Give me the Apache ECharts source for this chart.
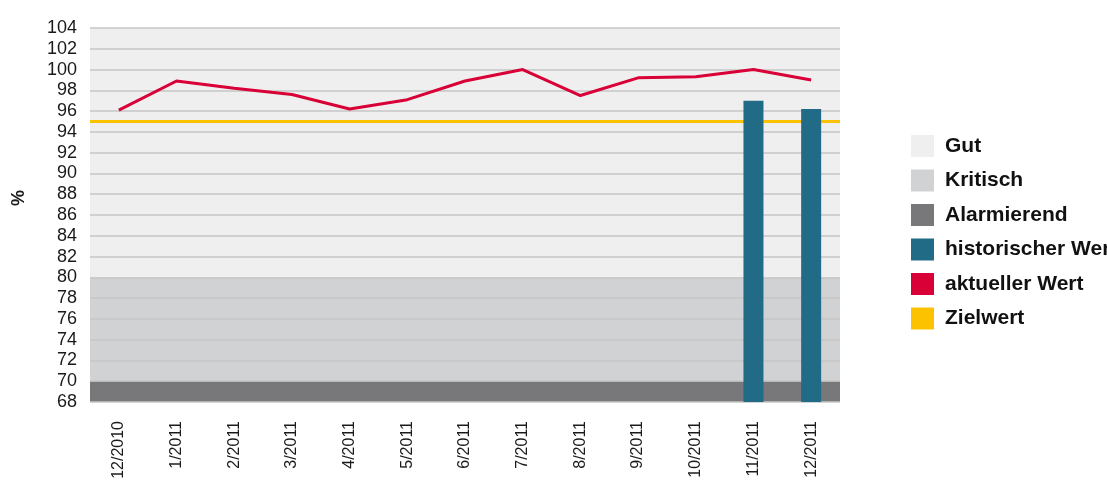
<!DOCTYPE html>
<html>
<head>
<meta charset="utf-8">
<script src="https://cdn.jsdelivr.net/npm/echarts@6/dist/echarts.min.js"></script>
<style>
html,body{margin:0;padding:0;background:#fff;}
#c{width:1107px;height:484px;}
</style>
</head>
<body>
<div id="c"></div>
<script>
var categories = ['12/2010','1/2011','2/2011','3/2011','4/2011','5/2011','6/2011','7/2011','8/2011','9/2011','10/2011','11/2011','12/2011'];
var aktuellerWert = [96.1, 98.9, 98.2, 97.6, 96.2, 97.1, 98.9, 100.0, 97.5, 99.2, 99.3, 100.0, 99.0];
var historischerWert = [null, null, null, null, null, null, null, null, null, null, null, 97.0, 96.2];
var zielwert = 95;
var bandGut = [80, 104];
var bandKritisch = [70, 80];
var bandAlarmierend = [68, 70];
var yMin = 68, yMax = 104, yStep = 2;

var chart = echarts.init(document.getElementById('c'));
var font = 'Liberation Sans, Arial, sans-serif';

function band(name, color, range) {
  return {
    name: name,
    type: 'line',
    data: [],
    itemStyle: {color: color},
    lineStyle: {color: color},
    markArea: {
      z: -1,
      silent: true,
      itemStyle: {color: color},
      data: [[{yAxis: range[0]}, {yAxis: range[1]}]]
    }
  };
}

chart.setOption({
  animation: false,
  textStyle: {fontFamily: font},
  grid: {left: 90, right: 267, top: 28, bottom: 82, containLabel: false, outerBoundsMode: 'none'},
  legend: {
    orient: 'vertical',
    left: 911,
    top: 135,
    padding: 0,
    icon: 'rect',
    itemWidth: 23,
    itemHeight: 22,
    itemGap: 12.5,
    textStyle: {fontFamily: font, fontWeight: 'bold', fontSize: 21, color: '#111', padding: [0, 0, 0, 6]},
    data: ['Gut', 'Kritisch', 'Alarmierend', 'historischer Wert', 'aktueller Wert', 'Zielwert']
  },
  xAxis: {
    type: 'category',
    data: categories,
    boundaryGap: true,
    axisLine: {show: false},
    axisTick: {show: false},
    axisLabel: {rotate: 90, margin: 19, fontSize: 16, color: '#1a1a1a', fontFamily: font, interval: 0}
  },
  yAxis: {
    type: 'value',
    min: yMin,
    max: yMax,
    interval: yStep,
    name: '%',
    nameLocation: 'middle',
    nameRotate: 90,
    nameGap: 62,
    nameTextStyle: {fontSize: 18, fontWeight: 'bold', color: '#1a1a1a', fontFamily: font, padding: [0, 0, 0, 34]},
    axisLine: {show: false},
    axisTick: {show: false},
    axisLabel: {margin: 13, fontSize: 18, color: '#1a1a1a', fontFamily: font},
    splitLine: {lineStyle: {color: '#c6c6c6', width: 1.5}}
  },
  series: [
    band('Gut', '#efefef', bandGut),
    band('Kritisch', '#d1d2d4', bandKritisch),
    band('Alarmierend', '#78787a', bandAlarmierend),
    {
      name: 'historischer Wert',
      type: 'bar',
      z: 3,
      barWidth: 20,
      data: historischerWert,
      itemStyle: {color: '#226b86'}
    },
    {
      name: 'aktueller Wert',
      type: 'line',
      z: 4,
      data: aktuellerWert,
      symbol: 'none',
      itemStyle: {color: '#d80036'},
      lineStyle: {color: '#d80036', width: 3}
    },
    {
      name: 'Zielwert',
      type: 'line',
      data: [],
      itemStyle: {color: '#fcc200'},
      lineStyle: {color: '#fcc200'},
      markLine: {
        z: 2,
        silent: true,
        symbol: 'none',
        label: {show: false},
        lineStyle: {color: '#fcc200', width: 3, type: 'solid'},
        data: [{yAxis: zielwert}]
      }
    }
  ]
});
</script>
</body>
</html>
